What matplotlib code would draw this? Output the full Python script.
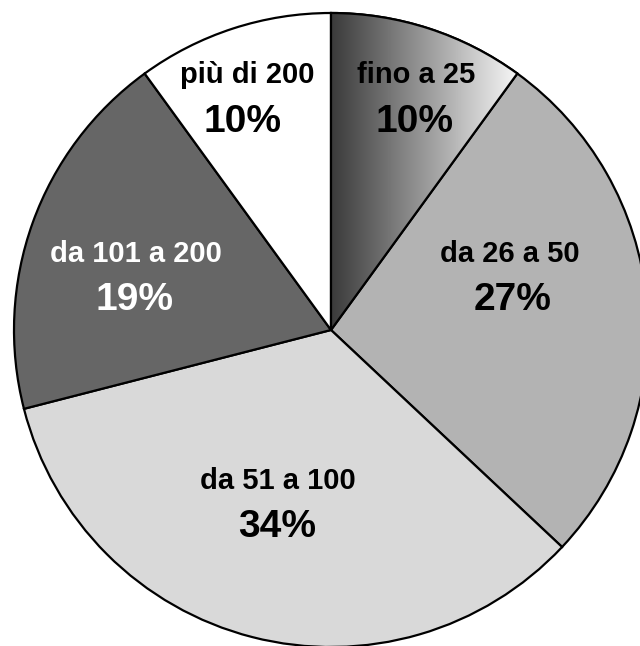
import numpy as np
import matplotlib
matplotlib.use("Agg")
import matplotlib.pyplot as plt
from matplotlib.colors import LinearSegmentedColormap
from matplotlib.patches import Wedge

categories = ["fino a 25", "da 26 a 50", "da 51 a 100", "da 101 a 200", "più di 200"]
values = [10, 27, 34, 19, 10]
pct_labels = ["10%", "27%", "34%", "19%", "10%"]
colors = ["#3c3c3c", "#b3b3b3", "#d9d9d9", "#666666", "#ffffff"]
text_colors = ["black", "black", "black", "white", "black"]
# label placement in pixels: (x label, baseline label, x pct, baseline pct), y from top
label_pos = [(416, 83, 415, 132), (510, 262, 513, 310), (278, 489, 277, 537),
             (136, 262, 135, 310), (247, 83, 243, 132)]

W, H = 640, 646
fig = plt.figure(figsize=(W / 100, H / 100), dpi=100)
ax = fig.add_axes([0, 0, 1, 1])

cx, cy, r = 331, H - 330, 317
wedges, _ = ax.pie(values, colors=colors, startangle=90, counterclock=False,
                   center=(cx, cy), radius=r, frame=True,
                   wedgeprops=dict(edgecolor="black", linewidth=1.6))
ax.set_xlim(0, W)
ax.set_ylim(0, H)
ax.set_aspect("equal")
ax.axis("off")

# gradient fill for first wedge
w0 = wedges[0]
ang0 = 360 * values[0] / sum(values)
x_right = cx + r * np.sin(np.deg2rad(ang0))
cmap = LinearSegmentedColormap.from_list("g", ["#3a3a3a", "#f7f7f7"])
grad = np.linspace(0, 1, 256).reshape(1, -1)
im = ax.imshow(grad, cmap=cmap, extent=(cx, x_right, cy, cy + r), aspect="auto",
               zorder=w0.get_zorder() + 0.1)
im.set_clip_path(w0)
edge = Wedge((cx, cy), r, 90 - ang0, 90, facecolor="none", edgecolor="black",
             linewidth=1.6, zorder=w0.get_zorder() + 0.2)
ax.add_patch(edge)
ax.set_xlim(0, W)
ax.set_ylim(0, H)

for cat, pct, tc, (xl, yl, xp, yp) in zip(categories, pct_labels, text_colors, label_pos):
    ax.text(xl, H - yl, cat, ha="center", va="baseline", fontsize=21,
            fontweight="bold", family="Liberation Sans", color=tc, zorder=10)
    ax.text(xp, H - yp, pct, ha="center", va="baseline", fontsize=28,
            fontweight="bold", family="Liberation Sans", color=tc, zorder=10)

fig.savefig("out.png", dpi=100)
